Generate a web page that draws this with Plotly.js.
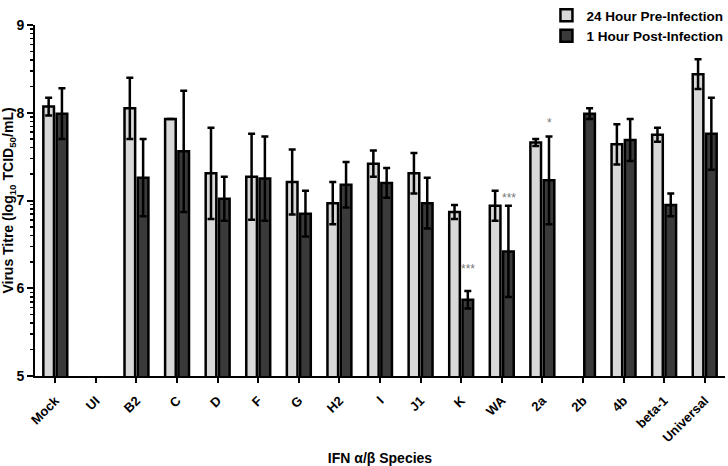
<!DOCTYPE html>
<html>
<head>
<meta charset="utf-8">
<script src="https://cdn.plot.ly/plotly-3.0.1.min.js"></script>
<style>html,body{margin:0;padding:0;background:#fff}#chart{width:728px;height:466px}</style>
</head>
<body>
<div id="chart"></div>
<script>
const categories = ["Mock","UI","B2","C","D","F","G","H2","I","J1","K","WA","2a","2b","4b","beta-1","Universal"];
const preValues  = [8.07, null, 8.05, 7.93, 7.31, 7.27, 7.21, 6.97, 7.42, 7.31, 6.87, 6.94, 7.66, null, 7.64, 7.75, 8.44];
const preErrors  = [0.10, null, 0.35, 0.00, 0.52, 0.49, 0.37, 0.24, 0.15, 0.23, 0.08, 0.17, 0.04, null, 0.23, 0.08, 0.17];
const postValues = [7.99, null, 7.26, 7.56, 7.02, 7.25, 6.85, 7.18, 7.20, 6.97, 5.87, 6.42, 7.23, 7.99, 7.69, 6.95, 7.76];
const postErrors = [0.29, null, 0.44, 0.69, 0.25, 0.48, 0.26, 0.26, 0.17, 0.29, 0.10, 0.52, 0.50, 0.06, 0.24, 0.13, 0.41];
const sigCategories = ["K", "WA", "2a"];
const sigLabels = ["***", "***", "*"];
const sigValues = [6.22, 7.03, 7.88];
const yTicks = [5, 6, 7, 8, 9];

const FONT = "Arial, 'Liberation Sans', sans-serif";
const minorVals = [];
for (let d = 5; d < 9; d++) for (let k = 2; k <= 9; k++) minorVals.push(d + Math.log10(k));

const errStyle = {type: "data", visible: true, color: "#000", thickness: 2.5, width: 3.5};

const traces = [
  {type: "bar", name: "24 Hour Pre-Infection", x: categories, y: preValues,
   marker: {color: "#d8d8d8", line: {color: "#000", width: 2.5}},
   error_y: Object.assign({array: preErrors}, errStyle)},
  {type: "bar", name: "1 Hour Post-Infection", x: categories, y: postValues,
   marker: {color: "#3a3a3a", line: {color: "#000", width: 2.5}},
   error_y: Object.assign({array: postErrors}, errStyle)}
];

const annotations = sigCategories.map((c, i) => ({
  x: c, y: sigValues[i], xref: "x", yref: "y", text: sigLabels[i], showarrow: false,
  xshift: 7, font: {family: FONT, size: 12, color: "#777"}
}));

const layout = {
  width: 728, height: 466,
  margin: {l: 35, r: 3, t: 25, b: 90, autoexpand: false},
  paper_bgcolor: "#fff", plot_bgcolor: "#fff",
  barmode: "group", bargap: 0.345, bargroupgap: 0.2,
  showlegend: true,
  legend: {x: 1.005, xanchor: "right", yref: "container", y: 1.01, yanchor: "top", bgcolor: "rgba(0,0,0,0)",
           font: {family: FONT, size: 13.5, color: "#000", weight: "bold"}, tracegroupgap: 2},
  font: {family: FONT, color: "#000"},
  xaxis: {
    type: "category", showline: true, linecolor: "#000", linewidth: 2,
    ticks: "outside", ticklen: 5, tickwidth: 2, tickcolor: "#000",
    tickangle: -45, tickfont: {family: FONT, size: 13, weight: "bold"}, ticklabelstandoff: 5,
    showgrid: false, zeroline: false,
    title: {text: "IFN α/β Species", font: {family: FONT, size: 14, weight: "bold"}, standoff: 20}
  },
  yaxis: {
    range: [5, 9], showline: true, linecolor: "#000", linewidth: 2,
    tickmode: "array", tickvals: yTicks, ticktext: yTicks.map(String),
    ticks: "outside", ticklen: 6, tickwidth: 2, tickcolor: "#000",
    tickfont: {family: FONT, size: 14, weight: "bold"},
    minor: {tickmode: "array", tickvals: minorVals, ticks: "outside", ticklen: 3, tickwidth: 1.5, tickcolor: "#000", showgrid: false},
    showgrid: false, zeroline: false,
    title: {text: "Virus Titre (log<sub>10</sub> TCID<sub>50</sub>/mL)", font: {family: FONT, size: 14, weight: "bold"}, standoff: 6}
  },
  annotations: annotations
};

Plotly.newPlot("chart", traces, layout, {displayModeBar: false, staticPlot: true});
</script>
</body>
</html>
